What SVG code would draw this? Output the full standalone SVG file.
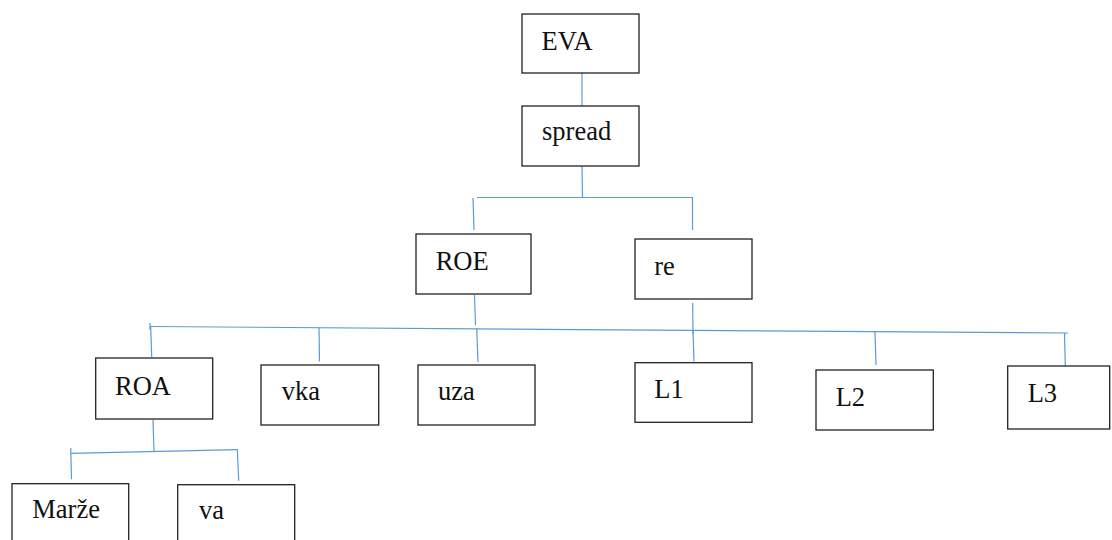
<svg xmlns="http://www.w3.org/2000/svg" width="1112" height="540" viewBox="0 0 1112 540">
<style>
.box{fill:#fff;stroke:#222;stroke-width:1.3}
.lbl{font-family:"Liberation Serif","Times New Roman",serif;font-size:26.5px;fill:#111}
.ln{stroke:#5B9BD5;stroke-width:1.2;fill:none}
</style>
<rect width="1112" height="540" fill="#fff"/>
<g id="connectors">
<line class="ln" x1="582" y1="73" x2="582" y2="108"/>
<line class="ln" x1="582" y1="166" x2="582.5" y2="197"/>
<line class="ln" x1="477" y1="197.5" x2="693" y2="197.5"/>
<line class="ln" x1="473" y1="198" x2="474" y2="230"/>
<line class="ln" x1="692.5" y1="198" x2="692.5" y2="230"/>
<line class="ln" x1="474.5" y1="295" x2="475.5" y2="325"/>
<line class="ln" x1="692.7" y1="303" x2="693" y2="334"/>
<line class="ln" x1="150" y1="326.5" x2="1068" y2="333"/>
<line class="ln" x1="150" y1="323" x2="150" y2="330"/>
<line class="ln" x1="150.7" y1="327" x2="151.7" y2="357"/>
<line class="ln" x1="319" y1="327.5" x2="319.5" y2="361.5"/>
<line class="ln" x1="476.7" y1="328.5" x2="478" y2="362"/>
<line class="ln" x1="693" y1="331" x2="694" y2="361.5"/>
<line class="ln" x1="875" y1="332" x2="876" y2="365"/>
<line class="ln" x1="1064.5" y1="333" x2="1065.3" y2="366"/>
<line class="ln" x1="153" y1="420" x2="154" y2="451"/>
<line class="ln" x1="71" y1="453.3" x2="237.5" y2="449.7"/>
<line class="ln" x1="70.7" y1="448" x2="71.5" y2="479.3"/>
<line class="ln" x1="237.3" y1="449" x2="238.7" y2="480.7"/>
</g>
<g id="n-eva"><rect class="box" x="522" y="14" width="117" height="59"/><text class="lbl" x="541.5" y="49.5">EVA</text></g>
<g id="n-spread"><rect class="box" x="522" y="106" width="117" height="60"/><text class="lbl" x="542" y="140">spread</text></g>
<g id="n-roe"><rect class="box" x="416" y="234" width="115" height="60"/><text class="lbl" x="435.7" y="270">ROE</text></g>
<g id="n-re"><rect class="box" x="635" y="239" width="117" height="60"/><text class="lbl" x="654.3" y="275">re</text></g>
<g id="n-roa"><rect class="box" x="95.7" y="358" width="117" height="61"/><text class="lbl" x="115" y="395">ROA</text></g>
<g id="n-vka"><rect class="box" x="261" y="365" width="117.7" height="60"/><text class="lbl" x="281.7" y="400">vka</text></g>
<g id="n-uza"><rect class="box" x="418" y="365" width="117" height="60"/><text class="lbl" x="438" y="400">uza</text></g>
<g id="n-l1"><rect class="box" x="635" y="362.7" width="117" height="59.6"/><text class="lbl" x="654.3" y="397.7">L1</text></g>
<g id="n-l2"><rect class="box" x="816" y="370" width="117.3" height="60"/><text class="lbl" x="835.7" y="406">L2</text></g>
<g id="n-l3"><rect class="box" x="1007.7" y="366" width="102" height="63"/><text class="lbl" x="1027.7" y="401.7">L3</text></g>
<g id="n-marze"><rect class="box" x="12" y="483.7" width="116.7" height="70"/><text class="lbl" x="32.3" y="518.3">Marže</text></g>
<g id="n-va"><rect class="box" x="177.7" y="484.7" width="117" height="70"/><text class="lbl" x="199" y="519.3">va</text></g>
</svg>
